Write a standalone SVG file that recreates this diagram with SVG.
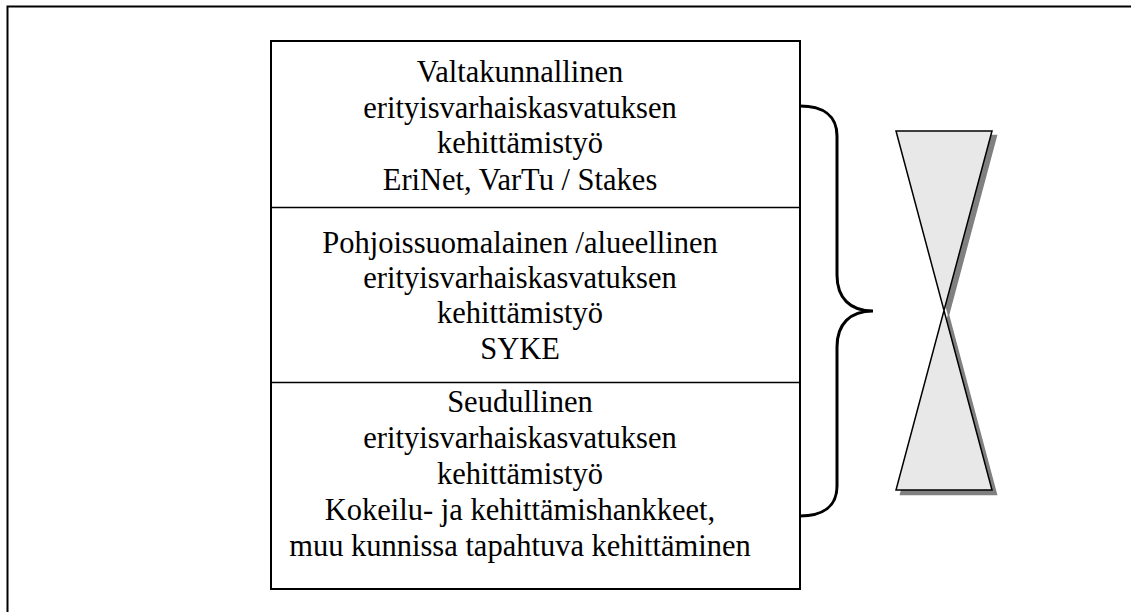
<svg xmlns="http://www.w3.org/2000/svg" width="1131" height="612" viewBox="0 0 1131 612">
<style>
.t{font-family:"Liberation Serif","Times New Roman",serif;font-size:30.5px;fill:#000;text-anchor:middle}
.box{fill:#fff;stroke:#000;stroke-width:2}
.div{stroke:#000;stroke-width:1.5;fill:none}
</style>
<rect x="0" y="0" width="1131" height="612" fill="#fff"/>
<rect id="frame" x="7.5" y="6.5" width="1200" height="700" fill="none" stroke="#000" stroke-width="2"/>
<g id="stack">
<rect class="box" x="271" y="41" width="529" height="548"/>
<g id="level1">
<text class="t" x="520" y="82">Valtakunnallinen</text>
<text class="t" x="520" y="118">erityisvarhaiskasvatuksen</text>
<text class="t" x="520" y="153">kehittämistyö</text>
<text class="t" x="520" y="190">EriNet, VarTu / Stakes</text>
</g>
<line class="div" x1="271" y1="207.5" x2="800" y2="207.5"/>
<g id="level2">
<text class="t" x="520" y="253">Pohjoissuomalainen /alueellinen</text>
<text class="t" x="520" y="288">erityisvarhaiskasvatuksen</text>
<text class="t" x="520" y="323">kehittämistyö</text>
<text class="t" x="520" y="359">SYKE</text>
</g>
<line class="div" x1="271" y1="382.5" x2="800" y2="382.5"/>
<g id="level3">
<text class="t" x="520" y="412">Seudullinen</text>
<text class="t" x="520" y="448">erityisvarhaiskasvatuksen</text>
<text class="t" x="520" y="484">kehittämistyö</text>
<text class="t" x="520" y="520">Kokeilu- ja kehittämishankkeet,</text>
<text class="t" x="520" y="556">muu kunnissa tapahtuva kehittäminen</text>
</g>
</g>
<g id="connectors">
<path id="brace" d="M800,106 C822,106 837,115 837,136 L837,275 C837,298 850,311 873,311 C850,311 837,324 837,347 L837,486 C837,507 822,516 800,516" fill="none" stroke="#000" stroke-width="3"/>
</g>
<g id="hourglass">
<path d="M900.5,135.5 L996.5,135.5 L900.5,494.5 L996.5,494.5 Z" fill="#808080" stroke="#808080" stroke-width="1.5"/>
<path d="M896,131 L992,131 L896,490 L992,490 Z" fill="#e8e8e8" stroke="#000" stroke-width="1.5" stroke-linejoin="miter"/>
</g>
</svg>
